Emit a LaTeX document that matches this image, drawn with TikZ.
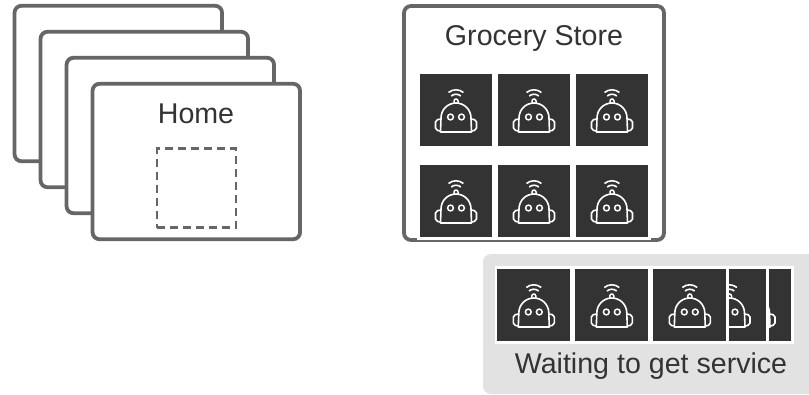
\documentclass[tikz,border=0pt]{standalone}
\usepackage{fontspec}
\setmainfont{Liberation Sans}
\tikzset{
  robot/.pic={
    \draw[white,line width=1.6pt,line join=round]
      (-15.5,22) -- (-15,8) arc (180:360:15) -- (15.5,22) -- cycle;
    \draw[white,line width=1.6pt,rounded corners=2pt]
      (-15,9) -- (-20.5,10) -- (-20.5,20) -- (-15.5,21);
    \draw[white,line width=1.6pt,rounded corners=2pt]
      (15,9) -- (20.5,10) -- (20.5,20) -- (15.5,21);
    \draw[white,line width=1.5pt] (-5.5,7) circle (2.9) (5.5,7) circle (2.9);
    \draw[white,line width=1.5pt] (-2,-7) -- (-2,-9) arc (180:360:2) -- (2,-7);
    \draw[white,line width=1.6pt] (-7.5,-17.5) arc (230:310:11.6);
    \draw[white,line width=1.6pt] (-4.8,-14) arc (230:310:7.5);
  }
}
\begin{document}
\begin{tikzpicture}[x=1pt,y=-1pt,node distance=78pt,
    page/.style={draw=pagegray,fill=white,line width=3.8pt,rounded corners=7pt,
      minimum width=207.5pt,minimum height=155.5pt,inner sep=0pt},
    tile/.style={draw=white,fill=tiledark,line width=2.6pt,minimum size=75.5pt,inner sep=0pt},
    caption/.style={text=textdark,font=\fontsize{28.6}{32}\selectfont,inner sep=0pt,anchor=base}]
  \definecolor{pagegray}{HTML}{666666}
  \definecolor{tiledark}{HTML}{333333}
  \definecolor{textdark}{HTML}{333333}
  \definecolor{panelgray}{HTML}{E2E2E2}
  \useasboundingbox (0,0) rectangle (809,394);
  % stack of homes
  \node[page] (home1) at (118.3,83.5) {};
  \node[page] (home2) at (144.3,109.5) {};
  \node[page] (home3) at (170.3,135.5) {};
  \node[page] (home4) at (196.3,161.5) {};
  \node[caption] (hometext) at (196,123) {Home};
  \node[draw=pagegray,dashed,dash pattern=on 8pt off 5pt,line width=2.6pt,
    minimum size=79pt,inner sep=0pt] (homeslot) at (196.3,188) {};
  % store
  \node[page,minimum width=260pt,minimum height=234pt] (store) at (534,123) {};
  \node[caption] (storetext) at (534,45) {Grocery Store};
  \node[tile] (s1) at (456,110) {};
  \node[tile] (s2) [right of=s1] {};
  \node[tile] (s3) [right of=s2] {};
  \node[tile] (s4) at (456,201) {};
  \node[tile] (s5) [right of=s4] {};
  \node[tile] (s6) [right of=s5] {};
  \foreach \n in {s1,s2,s3,s4,s5,s6}
    \pic at (\n) {robot};
  % queue
  \node[fill=panelgray,rounded corners=8pt,minimum width=340pt,minimum height=140pt,
    inner sep=0pt] (queue) at (653,324) {};
  \node[fill=white,minimum width=298pt,minimum height=77.5pt,inner sep=0pt] (strip) at (644,304.8) {};
  \node[tile] (q5) at (754.5,305) {};
  \pic at (q5) {robot};
  \node[tile] (q4) at (729.5,305) {};
  \pic at (q4) {robot};
  \node[tile] (q1) at (533.8,305) {};
  \node[tile] (q2) [right of=q1] {};
  \node[tile] (q3) [right of=q2] {};
  \foreach \n in {q1,q2,q3}
    \pic at (\n) {robot};
  \node[caption] (queuetext) at (651,373.5) {Waiting to get service};
\end{tikzpicture}
\end{document}
